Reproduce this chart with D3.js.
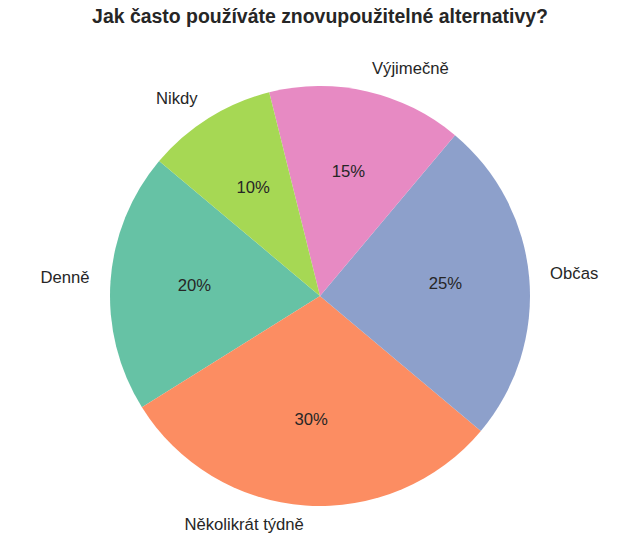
<!DOCTYPE html>
<html><head><meta charset="utf-8">
<script src="https://cdn.jsdelivr.net/npm/d3@7"></script>
<style>body{margin:0;background:#fff;} text{font-family:"Liberation Sans",Arial,sans-serif;}</style>
</head><body>
<svg id="c" width="640" height="543"></svg>
<script>
const categories = ["Denně", "Několikrát týdně", "Občas", "Výjimečně", "Nikdy"];
const values = [20, 30, 25, 15, 10];
const colors = ["#66c2a5", "#fc8d62", "#8da0cb", "#e78ac3", "#a6d854"];
const title = "Jak často používáte znovupoužitelné alternativy?";

const svg = d3.select("#c");
const cx = 320, cy = 296, r = 210;
const startDeg = 140;
const toRad = d => d * Math.PI / 180;
const pie = d3.pie().sort(null).value(d => d.v)
  .startAngle(toRad(90 - startDeg)).endAngle(toRad(90 - startDeg - 360));
const data = pie(categories.map((c, i) => ({c, v: values[i], col: colors[i]})));
const g = svg.append("g").attr("transform", `translate(${cx},${cy})`);
const arc = d3.arc().innerRadius(0).outerRadius(r);
g.selectAll("path").data(data).join("path").attr("d", arc).attr("fill", d => d.data.col);
const total = d3.sum(values);
const fs = 16.67;
data.forEach(d => {
  const mid = (d.startAngle + d.endAngle) / 2;
  const sx = Math.sin(mid), sy = -Math.cos(mid);
  g.append("text").attr("x", 0.6 * r * sx).attr("y", 0.6 * r * sy - 2)
    .attr("text-anchor", "middle").attr("dominant-baseline", "central")
    .attr("font-size", fs).attr("fill", "#262626")
    .text(Math.round(d.data.v / total * 100) + "%");
  g.append("text").attr("x", 1.1 * r * sx).attr("y", 1.1 * r * sy - 2)
    .attr("text-anchor", sx > 0 ? "start" : "end").attr("dominant-baseline", "central")
    .attr("font-size", fs).attr("fill", "#262626")
    .text(d.data.c);
});
svg.append("text").attr("x", 320).attr("y", 23).attr("text-anchor", "middle")
  .attr("font-size", 19.44).attr("font-weight", "bold").attr("fill", "#262626").text(title);
</script>
</body></html>
